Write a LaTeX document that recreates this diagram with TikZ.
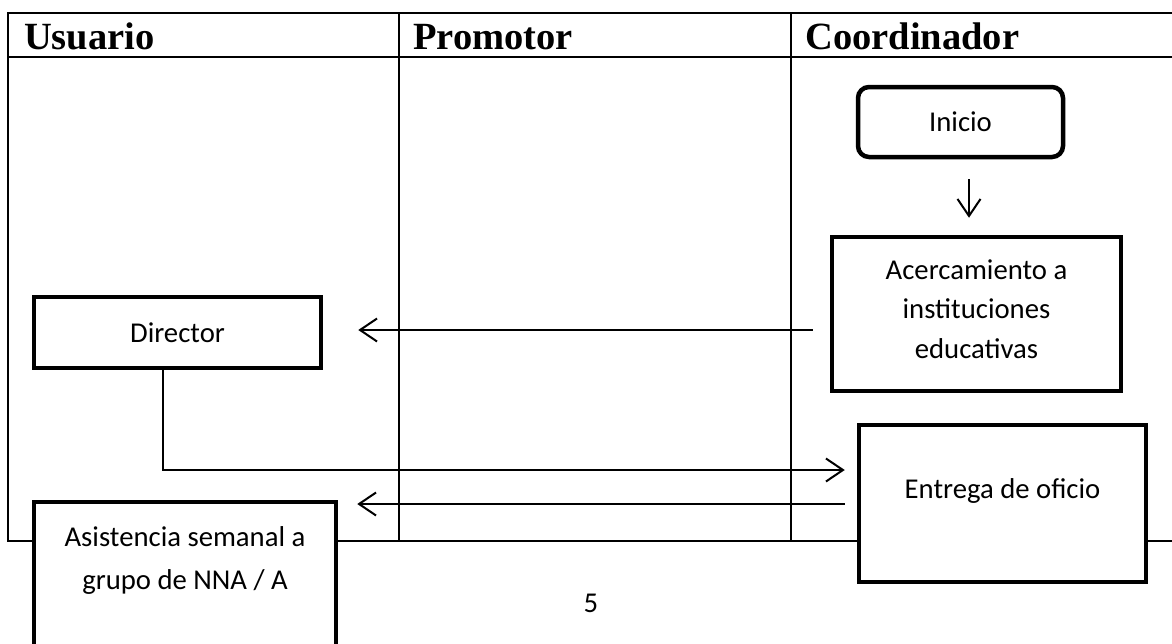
\documentclass[tikz,border=0pt]{standalone}
\usepackage{fontspec}
\setmainfont{Carlito}
\newfontfamily\headfont{Liberation Serif}
\usetikzlibrary{arrows.meta}

\tikzset{
  lane/.style={line width=2pt, line cap=rect},
  headtext/.style={anchor=base west, inner sep=0pt, font=\headfont\bfseries\fontsize{38.5}{40}\selectfont},
  box/.style={draw, line width=4.5pt, fill=white, inner sep=0pt},
  startbox/.style={box, rounded corners=11pt},
  txt/.style={inner sep=0pt, align=center, font=\fontsize{28.7}{39.5}\selectfont},
  flow/.style={line width=2pt, -{Straight Barb[length=17pt, width=23pt, line width=2pt]}}
}

\begin{document}
\begin{tikzpicture}[x=1pt, y=-1pt]
  \useasboundingbox (0,0) rectangle (1172,643);
  \clip (0,0) rectangle (1172,643);
  \fill[white] (0,0) rectangle (1172,643);

  % swimlane table
  \draw[lane] (8,13) -- (1180,13);
  \draw[lane] (8,57) -- (1180,57);
  \draw[lane] (8,541) -- (1180,541);
  \draw[lane] (8,13) -- (8,541);
  \draw[lane] (399,13) -- (399,541);
  \draw[lane] (791,13) -- (791,541);

  \node[headtext] (hU) at (24,49) {Usuario};
  \node[headtext] (hP) at (413,49) {Promotor};
  \node[headtext] (hC) at (805,49) {Coordinador};

  % process boxes
  \node[startbox, minimum width=205pt, minimum height=70pt] (ini) at (960.5,122) {};
  \node[txt] (iniT) at (ini.center) {Inicio};

  \node[box, minimum width=289pt, minimum height=154pt] (acer) at (976.5,314) {};
  \node[txt] (acerT) at (976.5,309) {Acercamiento a\\instituciones\\educativas};

  \node[box, minimum width=287pt, minimum height=71pt] (dir) at (177.5,332.5) {};
  \node[txt] (dirT) at (dir.center) {Director};

  \node[box, minimum width=287pt, minimum height=157pt] (ent) at (1002.5,503.5) {};
  \node[txt] (entT) at (1002.5,491) {Entrega de oficio};

  \node[box, minimum width=302pt, minimum height=198pt] (asi) at (185,601) {};
  \node[txt, font=\fontsize{28.7}{43}\selectfont] (asiT) at (185,560.5) {Asistencia semanal a\\grupo de NNA / A};

  \node[txt] (pg) at (591,603) {5};

  % connectors
  \draw[flow] ([shift={(8.5,20)}]ini.south) -- ([shift={(8.5,-17)}]acer.north -| ini.south);
  \draw[flow] ([shift={(-17,16)}]acer.west) -- ([shift={(35,-2.5)}]dir.east);
  \draw[flow] ([shift={(-14.5,0)}]dir.south) |- ([shift={(-12,-33.5)}]ent.west);
  \draw[flow] ([shift={(-12,0.5)}]ent.west) -- ([shift={(19,-97)}]asi.east);
\end{tikzpicture}
\end{document}
